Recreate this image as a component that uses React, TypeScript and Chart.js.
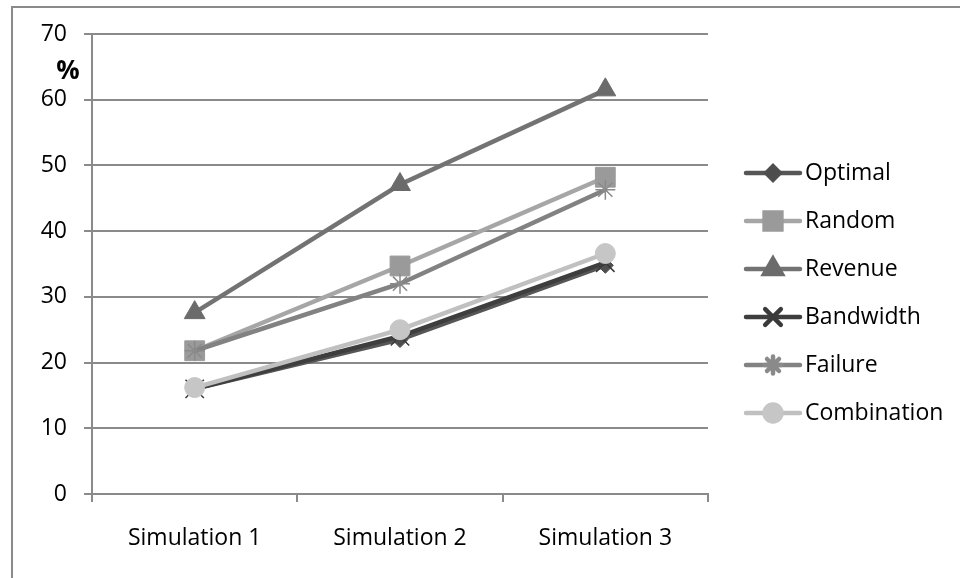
import { useEffect, useRef } from "react";
import { Chart, registerables } from "chart.js";
import { drawPoint } from "chart.js/helpers";

Chart.register(...registerables);

const categories = ["Simulation 1", "Simulation 2", "Simulation 3"];
const seriesNames = ["Optimal", "Random", "Revenue", "Bandwidth", "Failure", "Combination"];

const optimal = [16.0, 23.5, 34.8];
const random = [21.8, 34.7, 48.2];
const revenue = [27.6, 47.1, 61.5];
const bandwidth = [16.0, 24.0, 35.2];
const failure = [21.8, 32.0, 46.3];
const combination = [16.2, 25.0, 36.6];

const yTicks = [0, 10, 20, 30, 40, 50, 60, 70];
const yUnit = "%";

const seriesValues = [optimal, random, revenue, bandwidth, failure, combination];
const lineColors = ["#565656", "#a6a6a6", "#737373", "#3e3e3e", "#828282", "#c0c0c0"];
const markerColors = ["#4e4e4e", "#9a9a9a", "#6b6b6b", "#3a3a3a", "#8a8a8a", "#c6c6c6"];
const markerStyles = ["rectRot", "rect", "triangle", "crossRot", "star", "circle"];
const markerRadii = [8, 14, 12, 13, 10, 10];

const FONT = "'Open Sans', 'Noto Sans', sans-serif";
const FONT_SIZE = 23;
const GRID = "#8a8a8a";

const frameAndLegend = {
  id: "frameAndLegend",
  beforeDraw(chart: any) {
    const ctx = chart.ctx;
    ctx.save();
    ctx.strokeStyle = GRID;
    ctx.lineWidth = 2;
    ctx.strokeRect(12, 7, 1000, 1000);
    ctx.restore();
  },
  afterDraw(chart: any) {
    const ctx = chart.ctx;
    ctx.save();
    // unit label beside the value axis
    ctx.fillStyle = "#000";
    ctx.font = `bold 26px ${FONT}`;
    ctx.textAlign = "center";
    ctx.textBaseline = "middle";
    ctx.fillText(yUnit, 68, 72);

    // legend: line sample with marker, then series name
    const x0 = 746;
    const x1 = 800;
    const top = 173;
    const step = 48;
    seriesNames.forEach((name, i) => {
      const y = top + i * step;
      ctx.strokeStyle = lineColors[i];
      ctx.lineWidth = 4.5;
      ctx.lineCap = "round";
      ctx.beginPath();
      ctx.moveTo(x0, y);
      ctx.lineTo(x1, y);
      ctx.stroke();
      ctx.fillStyle = markerColors[i];
      ctx.strokeStyle = markerColors[i];
      const cross = markerStyles[i] === "crossRot" || markerStyles[i] === "star";
      drawPoint(
        ctx,
        {
          pointStyle: markerStyles[i],
          radius: markerRadii[i] * 0.85,
          rotation: 0,
          borderWidth: cross ? 1.5 : 1,
        } as any,
        (x0 + x1) / 2,
        y
      );
      ctx.fillStyle = "#000";
      ctx.font = `${FONT_SIZE}px ${FONT}`;
      ctx.textAlign = "left";
      ctx.textBaseline = "middle";
      ctx.fillText(name, 805, y);
    });
    ctx.restore();
  },
};

export default function App() {
  const canvasRef = useRef<HTMLCanvasElement | null>(null);

  useEffect(() => {
    document.body.style.margin = "0";
    const canvas = canvasRef.current;
    if (!canvas) return;

    const datasets = seriesNames.map((name, i) => {
      const cross = markerStyles[i] === "crossRot" || markerStyles[i] === "star";
      return {
        label: name,
        data: seriesValues[i],
        borderColor: lineColors[i],
        backgroundColor: markerColors[i],
        borderWidth: 4.5,
        pointStyle: markerStyles[i],
        pointRadius: markerRadii[i],
        pointBackgroundColor: markerColors[i],
        pointBorderColor: markerColors[i],
        pointBorderWidth: cross ? 1.5 : 1,
        tension: 0,
        order: seriesNames.length - 1 - i,
      };
    });

    const chart = new Chart(canvas, {
      type: "line",
      data: { labels: categories, datasets },
      plugins: [frameAndLegend],
      options: {
        animation: false,
        responsive: false,
        devicePixelRatio: 1,
        layout: { padding: { left: 0, top: 34, right: 252, bottom: 0 } },
        plugins: {
          legend: { display: false },
          tooltip: { enabled: false },
        },
        scales: {
          x: {
            type: "category",
            offset: true,
            grid: {
              offset: true,
              drawOnChartArea: false,
              drawTicks: true,
              tickLength: 8,
              color: GRID,
              lineWidth: 2,
            },
            border: { color: GRID, width: 2 },
            ticks: {
              color: "#000",
              font: { family: FONT, size: FONT_SIZE },
              padding: 23,
              maxRotation: 0,
            },
            afterFit(scale: any) {
              scale.height = 84;
            },
          },
          y: {
            min: 0,
            max: 70,
            afterBuildTicks(scale: any) {
              scale.ticks = yTicks.map((v) => ({ value: v }));
            },
            grid: {
              color: GRID,
              lineWidth: 2,
              drawTicks: true,
              tickLength: 8,
            },
            border: { color: GRID, width: 2 },
            ticks: {
              color: "#000",
              font: { family: FONT, size: FONT_SIZE },
              padding: 17,
            },
            afterFit(scale: any) {
              scale.width = 92;
            },
          },
        },
      },
    });

    return () => chart.destroy();
  }, []);

  return (
    <div style={{ position: "absolute", left: 0, top: 0, width: 960, height: 578, background: "#fff" }}>
      <canvas ref={canvasRef} width={960} height={578} style={{ display: "block" }} />
    </div>
  );
}
